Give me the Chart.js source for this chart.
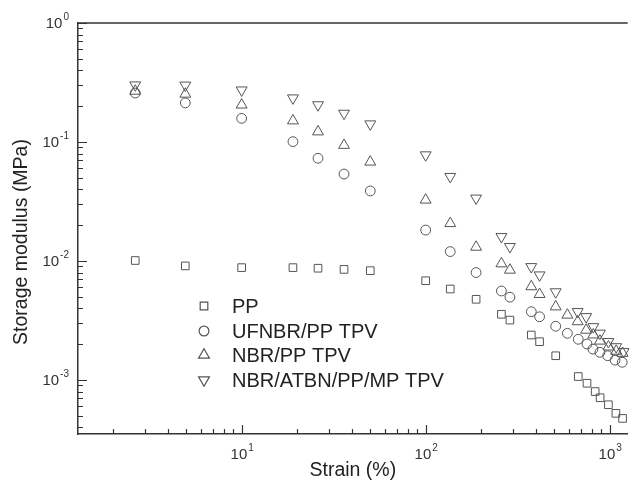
<!DOCTYPE html>
<html>
<head>
<meta charset="utf-8">
<script src="https://cdn.jsdelivr.net/npm/chart.js@4.4.1/dist/chart.umd.min.js"></script>
<style>
    html, body { margin: 0; padding: 0; background: #fff; }
    #wrap { width: 635px; height: 495px; }
</style>
</head>
<body>
<div id="wrap"><canvas id="modulusChart"></canvas></div>
<script>
// PP
const ppStrain = [2.64, 4.94, 10, 19, 26, 36, 50, 100, 136, 188, 258, 287, 375, 416, 509, 675, 753, 834, 887, 984, 1081, 1175];
const ppModulus = [0.0101, 0.0091, 0.0088, 0.0088, 0.0087, 0.0085, 0.0083, 0.00683, 0.00582, 0.00477, 0.00357, 0.00319, 0.00239, 0.0021, 0.0016, 0.00107, 0.00094, 0.0008, 0.00071, 0.00062, 0.000525, 0.000476];

// UFNBR/PP TPV
const ufnbrStrain = [2.64, 4.94, 10, 19, 26, 36, 50, 100, 136, 188, 258, 287, 375, 416, 509, 589, 675, 753, 811, 885, 975, 1070, 1170];
const ufnbrModulus = [0.258, 0.213, 0.158, 0.1007, 0.073, 0.0538, 0.0388, 0.0182, 0.012, 0.008, 0.0056, 0.00497, 0.00375, 0.0034, 0.00283, 0.00247, 0.0022, 0.00201, 0.00182, 0.00171, 0.0016, 0.00147, 0.00141];

// NBR/PP TPV
const nbrStrain = [2.64, 4.94, 10, 19, 26, 36, 50, 100, 136, 188, 258, 287, 375, 416, 509, 589, 670, 745, 815, 885, 985, 1085, 1175];
const nbrModulus = [0.268, 0.253, 0.205, 0.151, 0.122, 0.094, 0.068, 0.0326, 0.0207, 0.0131, 0.0095, 0.0084, 0.0061, 0.00525, 0.00413, 0.00352, 0.0031, 0.00263, 0.0024, 0.00213, 0.0019, 0.00175, 0.00168];

// NBR/ATBN/PP/MP TPV
const atbnStrain = [2.64, 4.94, 10, 19, 26, 36, 50, 100, 136, 188, 258, 287, 375, 416, 509, 670, 745, 815, 885, 984, 1085, 1190];
const atbnModulus = [0.301, 0.30, 0.273, 0.234, 0.205, 0.174, 0.1416, 0.0778, 0.0512, 0.0337, 0.016, 0.0132, 0.00895, 0.00762, 0.0055, 0.00375, 0.0034, 0.0028, 0.00247, 0.0021, 0.0019, 0.00173];

const seriesNames = ['PP', 'UFNBR/PP TPV', 'NBR/PP TPV', 'NBR/ATBN/PP/MP TPV'];

const xTickLabels = [{ value: 10, exp: '1' }, { value: 100, exp: '2' }, { value: 1000, exp: '3' }];
const yTickLabels = [{ value: 1, exp: '0' }, { value: 0.1, exp: '-1' }, { value: 0.01, exp: '-2' }, { value: 0.001, exp: '-3' }];

const FONT = "'Liberation Sans', Arial, sans-serif";
const MARK = '#555';

function toPoints(xs, ys) {
    return xs.map((x, i) => ({ x: x, y: ys[i] }));
}

const markerStyles = [
    { pointStyle: 'rect', radius: 5.4, rotation: 0 },
    { pointStyle: 'circle', radius: 4.9, rotation: 0 },
    { pointStyle: 'triangle', radius: 6.3, rotation: 0 },
    { pointStyle: 'triangle', radius: 6.3, rotation: 180 }
];

function makeDataset(i, xs, ys) {
    const m = markerStyles[i];
    return {
        label: seriesNames[i],
        data: toPoints(xs, ys),
        showLine: false,
        pointStyle: m.pointStyle,
        pointRadius: m.radius,
        pointRotation: m.rotation,
        pointBorderColor: MARK,
        pointBackgroundColor: 'rgba(0,0,0,0)',
        pointBorderWidth: 1,
        clip: false
    };
}

// draw "10" with a raised exponent
function drawPower(ctx, exp, x, y, align) {
    const baseFont = '15px ' + FONT;
    const expFont = '10px ' + FONT;
    ctx.font = baseFont;
    const wb = ctx.measureText('10').width;
    ctx.font = expFont;
    const we = ctx.measureText(exp).width;
    let left = x;
    if (align === 'center') left = x - (wb + we) / 2;
    else if (align === 'right') left = x - (wb + we);
    ctx.textAlign = 'left';
    ctx.textBaseline = 'middle';
    ctx.font = baseFont;
    ctx.fillText('10', left, y);
    ctx.font = expFont;
    ctx.fillText(exp, left + wb + 1, y - 7);
}

function minorValues(min, max) {
    const vals = [];
    for (let e = Math.floor(Math.log10(min)); e <= Math.ceil(Math.log10(max)); e++) {
        for (let m = 1; m <= 9; m++) {
            const v = m * Math.pow(10, e);
            if (v >= min && v <= max) vals.push({ v: v, major: m === 1 });
        }
    }
    return vals;
}

const axisDecor = {
    id: 'axisDecor',
    afterDraw(chart) {
        const ctx = chart.ctx;
        const area = chart.chartArea;
        const xs = chart.scales.x;
        const ys = chart.scales.y;
        ctx.save();
        ctx.strokeStyle = '#333';
        ctx.lineWidth = 1.5;

        // top frame line
        ctx.beginPath();
        ctx.moveTo(area.left, area.top);
        ctx.lineTo(area.right, area.top);
        ctx.stroke();

        // inward ticks
        ctx.lineWidth = 1.2;
        ctx.beginPath();
        minorValues(xs.min, xs.max).forEach(t => {
            const px = Math.round(xs.getPixelForValue(t.v)) + 0.5;
            ctx.moveTo(px, area.bottom);
            ctx.lineTo(px, area.bottom - (t.major ? 9 : 5));
        });
        minorValues(ys.min, ys.max).forEach(t => {
            const py = Math.round(ys.getPixelForValue(t.v)) + 0.5;
            ctx.moveTo(area.left, py);
            ctx.lineTo(area.left + (t.major ? 9 : 5), py);
        });
        ctx.stroke();

        // tick labels
        ctx.fillStyle = '#333';
        xTickLabels.forEach(t => {
            drawPower(ctx, t.exp, xs.getPixelForValue(t.value), area.bottom + 21, 'center');
        });
        yTickLabels.forEach(t => {
            drawPower(ctx, t.exp, area.left - 10, ys.getPixelForValue(t.value) + 1, 'right');
        });

        // axis titles
        ctx.fillStyle = '#222';
        ctx.font = '19.5px ' + FONT;
        ctx.textAlign = 'center';
        ctx.textBaseline = 'middle';
        ctx.fillText('Strain (%)', (area.left + area.right) / 2, 471);
        ctx.save();
        ctx.translate(22, 242);
        ctx.rotate(-Math.PI / 2);
        ctx.fillText('Storage modulus (MPa)', 0, 0);
        ctx.restore();

        // legend
        const rows = [306, 331, 355, 380];
        rows.forEach((ry, i) => {
            const m = markerStyles[i];
            ctx.save();
            ctx.strokeStyle = MARK;
            ctx.fillStyle = 'rgba(0,0,0,0)';
            Chart.helpers.drawPoint(ctx, {
                pointStyle: m.pointStyle,
                radius: m.radius,
                rotation: m.rotation,
                borderWidth: 1
            }, 204, ry);
            ctx.restore();
            ctx.font = '20px ' + FONT;
            ctx.textAlign = 'left';
            ctx.textBaseline = 'middle';
            ctx.fillText(seriesNames[i], 232, ry + 1);
        });
        ctx.restore();
    }
};

const chart = new Chart(document.getElementById('modulusChart'), {
    type: 'scatter',
    data: {
        datasets: [
            makeDataset(0, ppStrain, ppModulus),
            makeDataset(1, ufnbrStrain, ufnbrModulus),
            makeDataset(2, nbrStrain, nbrModulus),
            makeDataset(3, atbnStrain, atbnModulus)
        ]
    },
    options: {
        responsive: true,
        maintainAspectRatio: false,
        animation: false,
        layout: { padding: { top: 23, right: 0, bottom: 0, left: 0 } },
        plugins: {
            legend: { display: false },
            tooltip: { enabled: false }
        },
        scales: {
            x: {
                type: 'logarithmic',
                min: 1.29,
                max: 1253,
                ticks: { display: false },
                grid: { display: false },
                border: { display: true, color: '#333', width: 1.5 },
                afterFit: function(scale) { scale.height = 61; }
            },
            y: {
                type: 'logarithmic',
                min: 3.52e-4,
                max: 1,
                ticks: { display: false },
                grid: { display: false },
                border: { display: true, color: '#333', width: 1.5 },
                afterFit: function(scale) { scale.width = 78; }
            }
        }
    },
    plugins: [axisDecor]
});
</script>
</body>
</html>
